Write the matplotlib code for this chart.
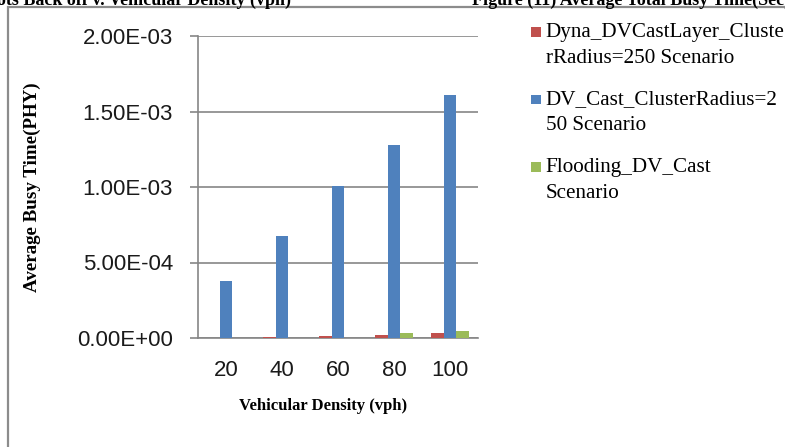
import matplotlib.pyplot as plt
from matplotlib.patches import Rectangle
from matplotlib.legend_handler import HandlerPatch
import numpy as np

# data
densities = ["20", "40", "60", "80", "100"]
dyna_layer = [2e-6, 4e-6, 1.3e-5, 2.2e-5, 3.1e-5]
dv_cast = [3.78e-4, 6.75e-4, 1.005e-3, 1.28e-3, 1.61e-3]
flooding = [0, 0, 0, 3.1e-5, 4.6e-5]
series_names = ["Dyna_DVCastLayer_Cluste\nrRadius=250 Scenario",
                "DV_Cast_ClusterRadius=2\n50 Scenario",
                "Flooding_DV_Cast\nScenario"]
colors = ["#C0504D", "#4F81BD", "#9BBB59"]
yticks = [0, 5e-4, 1e-3, 1.5e-3, 2e-3]

W, H = 785, 447
fig = plt.figure(figsize=(W / 100, H / 100), dpi=100)
ax = fig.add_axes([198 / W, 1 - 338 / H, 280 / W, 302 / H])

x = np.arange(len(densities))
bw = 0.227
bars = []
for i, (vals, c) in enumerate(zip([dyna_layer, dv_cast, flooding], colors)):
    bars.append(ax.bar(x + (i - 1) * bw, vals, width=bw, color=c, zorder=3))

gray = "#868686"
ax.set_xlim(-0.5, 4.5)
ax.set_ylim(0, 2e-3)
ax.set_yticks(yticks)
ax.set_yticklabels(["%.2E" % v for v in yticks])
ax.set_xticks(x)
ax.set_xticklabels(densities)
ax.yaxis.grid(True, color=gray, linewidth=1.2, zorder=0)
for s in ["top", "right"]:
    ax.spines[s].set_visible(False)
for s in ["left", "bottom"]:
    ax.spines[s].set_color(gray)
    ax.spines[s].set_linewidth(1.2)
for lab in ax.get_xticklabels() + ax.get_yticklabels():
    lab.set_fontfamily("Liberation Sans")
    lab.set_fontsize(16)
    lab.set_color("#1a1a1a")
ax.tick_params(axis="y", length=6, width=1.2, color=gray, pad=12)
ax.tick_params(axis="x", length=0, pad=16)

ax.set_ylabel("Average Busy Time(PHY)", family="Liberation Serif",
              weight="bold", size=13.7)
ax.yaxis.set_label_coords(-0.562, 0.5)
ax.set_xlabel("Vehicular Density (vph)", family="Liberation Serif",
              weight="bold", size=12)
ax.xaxis.set_label_coords(0.446, -0.2)


# Excel puts the legend square next to the first line of a wrapped label
def top_square(legend, orig_handle, xdescent, ydescent, width, height, fontsize):
    return Rectangle((-xdescent, -ydescent + 10), width, width)


leg = ax.legend([b.patches[0] for b in bars], series_names, loc="upper left",
                bbox_to_anchor=(531 / W, 1 - 23 / H), bbox_transform=fig.transFigure,
                frameon=False, borderpad=0, borderaxespad=0,
                prop={"family": "Liberation Serif", "size": 15.2},
                handlelength=0.45, handleheight=0.45, handletextpad=0.25,
                labelspacing=1.06,
                handler_map={Rectangle: HandlerPatch(patch_func=top_square)})
for t in leg.get_texts():
    t.set_linespacing(1.5)

# page frame and cut-off captions from the source document
fig.add_artist(Rectangle((8 / W, -0.2), 1.2, 1.2 - 7 / H, transform=fig.transFigure,
                         fill=False, edgecolor="#8c8c8c", linewidth=1.6))
fig.text(-3 / W, 1 - 5 / H, "ots Back off v. Vehicular Density (vph)",
         family="Liberation Serif", weight="bold", size=13, va="baseline")
fig.text(472 / W, 1 - 5 / H, "Figure (11) Average Total Busy Time(Sec)",
         family="Liberation Serif", weight="bold", size=13, va="baseline")

fig.savefig("out.png", dpi=100)
